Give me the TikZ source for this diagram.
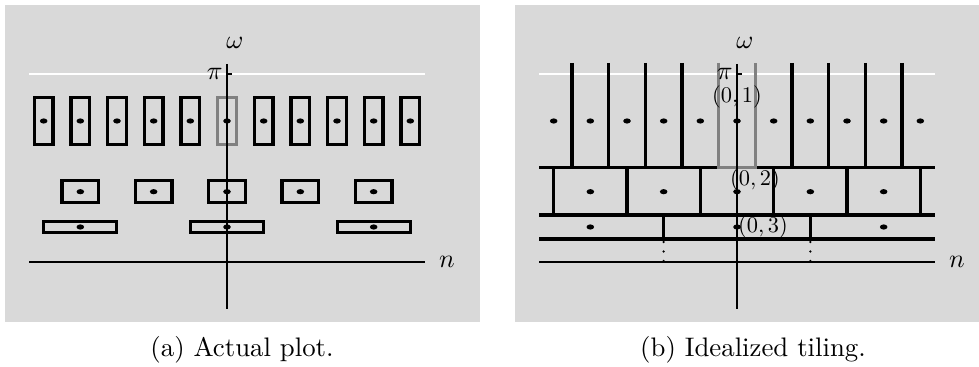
\documentclass[tikz,border=0pt]{standalone}
\newcommand{\axtext}[1]{\scalebox{1.3}{#1}}
\newcommand{\cotext}[1]{\scalebox{1.12}{#1}}
\newcommand{\captext}[1]{\scalebox{1.34}{#1}}
\begin{document}
\begin{tikzpicture}[x=0.5pt,y=-0.5pt,
  panel/.style={fill=panelgray,draw=none},
  tile/.style={draw=black,line width=1.65pt},
  hitile/.style={draw=hlgray,line width=1.65pt},
  wall/.style={draw=black,line width=1.6pt},
  floor/.style={draw=black,line width=2.1pt},
  axis/.style={draw=black,line width=0.55pt},
  piline/.style={draw=white,line width=0.75pt},
  gap/.style={draw=black,line width=1.3pt,line cap=round,dash pattern=on 0pt off 4.75pt},
  centre/.style={fill=black},
  axlabel/.style={font=\normalsize,inner sep=0pt},
  coordlabel/.style={font=\normalsize,inner sep=0pt},
  caption/.style={font=\normalsize,inner sep=0pt}
]
\definecolor{panelgray}{HTML}{D9D9D9}
\definecolor{hlgray}{HTML}{808080}
\useasboundingbox (0,0) rectangle (979,367);
\fill[white] (0,0) rectangle (979,367);

% ---------- (a) actual plot ----------
\fill[panel] (5,5) rectangle (480,322);
\draw[piline] (29,74) -- (425,74);
% scale 1: narrow tall boxes
\foreach \k in {-5,...,-1,1,2,3,4,5}
  \draw[tile] ({227+36.667*\k-9.3},97.2) rectangle ({227+36.667*\k+9.3},144.2);
\draw[hitile] (217.7,97.2) rectangle (236.3,144.2);
% scale 2
\foreach \k in {-2,...,2}
  \draw[tile] ({227+73.333*\k-18.2},180.8) rectangle ({227+73.333*\k+18.2},202.5);
% scale 3
\foreach \k in {-1,0,1}
  \draw[tile] ({227+146.667*\k-36.5},221.5) rectangle ({227+146.667*\k+36.5},232.5);
% axes
\draw[axis] (29,262) -- (425,262);
\draw[axis] (227,64) -- (227,309);
\draw[axis] (227,74) -- (232,74);
% centres
\foreach \k in {-5,...,5}
  \fill[centre] ({227+36.667*\k},121) ellipse [x radius=1.9pt,y radius=1.3pt];
\foreach \k in {-2,...,2}
  \fill[centre] ({227+73.333*\k},191.7) ellipse [x radius=1.9pt,y radius=1.3pt];
\foreach \k in {-1,0,1}
  \fill[centre] ({227+146.667*\k},227) ellipse [x radius=1.9pt,y radius=1.3pt];
\node[axlabel] (wa) at (235,43) {\axtext{$\omega$}};
\node[axlabel,anchor=east] (pa) at (223,74) {\axtext{$\pi$}};
\node[axlabel] (na) at (447,262) {\axtext{$n$}};
\node[caption] (capa) at (242,350) {\captext{(a) Actual plot.}};

% ---------- (b) idealized tiling ----------
\fill[panel] (515,5) rectangle (979,322);
\begin{scope}[xshift=255pt]
\draw[piline] (29,74) -- (425,74);
% walls between tiles, scale 1
\foreach \k in {-5,-4,-3,-2,1,2,3,4}
  \draw[wall] ({227+36.667*(\k+0.5)},63) -- ({227+36.667*(\k+0.5)},167.7);
% walls, scale 2
\foreach \k in {-5,-3,-1,1,3,5}
  \draw[wall] ({227+36.667*\k},167.7) -- ({227+36.667*\k},215);
% walls, scale 3
\foreach \k in {-1,1}
  \draw[wall] ({227+73.333*\k},215) -- ({227+73.333*\k},238.7);
% horizontal boundaries between scales
\draw[wall] (29,167.7) -- (425,167.7);
\draw[wall] (29,215) -- (425,215);
\draw[floor] (29,238.7) -- (425,238.7);
% continuation below the last scale
\foreach \k in {-1,1}
  \draw[gap] ({227+73.333*\k},242) -- ({227+73.333*\k},262);
% highlighted tile (0,1)
\draw[hitile] (208.7,63) -- (208.7,167.7) -- (245.3,167.7) -- (245.3,63);
% axes
\draw[axis] (29,262) -- (425,262);
\draw[axis] (227,64) -- (227,309);
\draw[axis] (227,74) -- (232,74);
% centres
\foreach \k in {-5,...,5}
  \fill[centre] ({227+36.667*\k},121) ellipse [x radius=1.9pt,y radius=1.3pt];
\foreach \k in {-2,...,2}
  \fill[centre] ({227+73.333*\k},191.7) ellipse [x radius=1.9pt,y radius=1.3pt];
\foreach \k in {-1,0,1}
  \fill[centre] ({227+146.667*\k},227) ellipse [x radius=1.9pt,y radius=1.3pt];
\node[axlabel] (wb) at (235,43) {\axtext{$\omega$}};
\node[axlabel,anchor=east] (pb) at (223,74) {\axtext{$\pi$}};
\node[axlabel] (nb) at (447,262) {\axtext{$n$}};
\node[coordlabel] (c1) at (227,97) {\cotext{$(0,1)$}};
\node[coordlabel] (c2) at (245,180) {\cotext{$(0,2)$}};
\node[coordlabel] (c3) at (253,227) {\cotext{$(0,3)$}};
\node[caption] (capb) at (243,350) {\captext{(b) Idealized tiling.}};
\end{scope}
\end{tikzpicture}
\end{document}
